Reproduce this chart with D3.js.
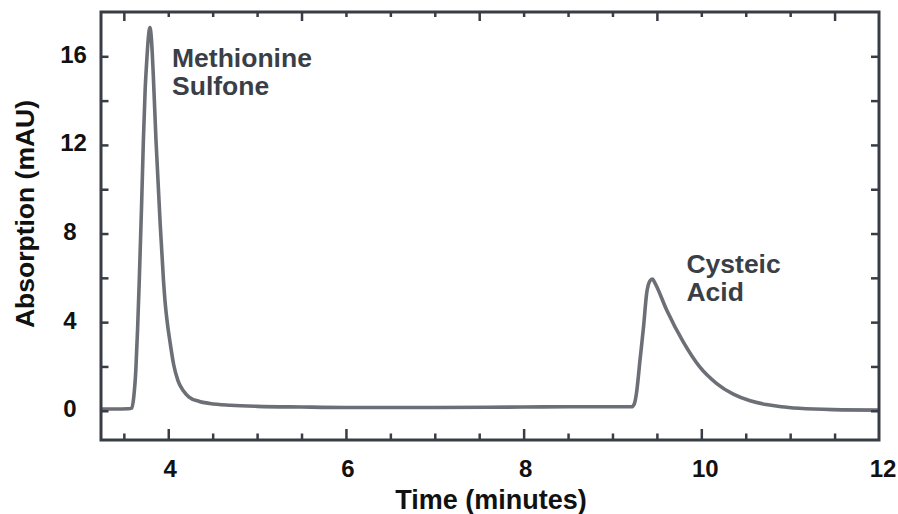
<!DOCTYPE html>
<html>
<head>
<meta charset="utf-8">
<script src="https://cdn.jsdelivr.net/npm/d3@7"></script>
<style>
  html, body { margin: 0; padding: 0; background: #fff; }
  svg { display: block; font-family: "Liberation Sans", Arial, Helvetica, sans-serif; }
</style>
</head>
<body>
<svg id="chart" width="898" height="514"></svg>
<script>
// ---- data ----
const timeMin = [3.24, 3.40, 3.55, 3.59, 3.612, 3.635, 3.655, 3.674, 3.70, 3.72, 3.74, 3.755, 3.775, 3.794,
  3.812, 3.83, 3.862, 3.907, 3.946, 3.968, 3.99, 4.02, 4.06, 4.11, 4.17, 4.23, 4.35, 4.47, 4.7, 5.0, 5.5,
  6.0, 7.0, 8.0, 8.5, 9.0, 9.215, 9.245, 9.27, 9.31, 9.35, 9.385, 9.42, 9.45, 9.48, 9.61, 9.795, 9.98,
  10.17, 10.36, 10.55, 10.73, 10.9, 11.1, 11.48, 12.0];
const absorption = [0.08, 0.08, 0.09, 0.12, 0.63, 1.83, 3.7, 5.9, 9.3, 12.2, 14.5, 15.6, 16.8, 17.3,
  16.7, 15.3, 12.2, 8.6, 5.9, 4.75, 3.95, 3.1, 2.1, 1.35, 0.9, 0.63, 0.42, 0.33, 0.25, 0.2, 0.17,
  0.15, 0.15, 0.17, 0.18, 0.18, 0.18, 0.3, 0.79, 2.29, 3.8, 5.3, 5.85, 5.95, 5.75, 4.55, 3.12, 1.99,
  1.24, 0.75, 0.45, 0.28, 0.18, 0.11, 0.05, 0.03];
const xTickValues = [4, 6, 8, 10, 12];
const yTickValues = [0, 4, 8, 12, 16];
const peakLabels = [
  { lines: ["Methionine", "Sulfone"], t: 3.795, v: 15.5 },
  { lines: ["Cysteic", "Acid"], t: 9.585, v: 6.2 }
];

// ---- layout ----
const svg = d3.select("#chart");
const L = 101, R = 879, T = 12, B = 440;
const x = d3.scaleLinear().domain([3.243, 12]).range([L, R]);
const y = d3.scaleLinear().domain([-1.32, 18]).range([B, T]);
const axisColor = "#383d45";

// curve
const line = d3.line().x((d, i) => x(timeMin[i])).y(d => y(d)).curve(d3.curveMonotoneX);
svg.append("path").datum(absorption)
  .attr("d", line)
  .attr("fill", "none")
  .attr("stroke", "#6c6f76")
  .attr("stroke-width", 3.6)
  .attr("stroke-linejoin", "round");

// ticks helper
function tickGroup(axisGen, transform) {
  const g = svg.append("g").attr("transform", transform).call(axisGen);
  g.select(".domain").remove();
  g.selectAll(".tick line").attr("stroke", axisColor).attr("stroke-width", 2.5);
  return g;
}
const minorX = d3.range(3.5, 12, 0.5).filter(v => xTickValues.indexOf(v) < 0);
tickGroup(d3.axisBottom(x).tickValues(minorX).tickSize(-6.5).tickFormat(""), `translate(0,${B})`);
tickGroup(d3.axisBottom(x).tickValues(xTickValues.filter(v => v < 12)).tickSize(-11).tickFormat(""), `translate(0,${B})`);
svg.append("g").selectAll("text").data(xTickValues).join("text")
  .attr("x", d => x(d) + (d >= 10 ? 4 : 2))
  .attr("y", 477)
  .attr("text-anchor", "middle")
  .attr("font-size", 24).attr("font-weight", "bold").attr("fill", "#111")
  .text(d => d);
const topAll = d3.range(3.5, 12, 0.5);
const topMajor = topAll.filter(v => ((v - 3.5) % 2) === 0);
tickGroup(d3.axisTop(x).tickValues(topAll.filter(v => topMajor.indexOf(v) < 0)).tickSize(-5).tickFormat(""), `translate(0,${T})`);
tickGroup(d3.axisTop(x).tickValues(topMajor).tickSize(-9).tickFormat(""), `translate(0,${T})`);
const yAll = d3.range(0, 17, 2);
tickGroup(d3.axisLeft(y).tickValues(yAll).tickSize(-7.5).tickFormat(""), `translate(${L},0)`);
tickGroup(d3.axisRight(y).tickValues(yAll).tickSize(-8).tickFormat(""), `translate(${R},0)`);
svg.append("g").selectAll("text").data(yTickValues).join("text")
  .attr("x", d => d >= 10 ? 73.5 : 70)
  .attr("y", d => y(d) - 2)
  .attr("dy", "0.35em")
  .attr("text-anchor", "middle")
  .attr("font-size", 24).attr("font-weight", "bold").attr("fill", "#111")
  .text(d => d);

// frame
svg.append("rect")
  .attr("x", L).attr("y", T).attr("width", R - L).attr("height", B - T)
  .attr("fill", "none").attr("stroke", axisColor).attr("stroke-width", 3);

// axis titles
svg.append("text")
  .attr("x", (L + R) / 2 + 1).attr("y", 509)
  .attr("text-anchor", "middle")
  .attr("font-size", 27).attr("font-weight", "bold").attr("fill", "#111")
  .text("Time (minutes)");
svg.append("text")
  .attr("transform", "translate(34,214) rotate(-90)")
  .attr("text-anchor", "middle")
  .attr("font-size", 26.5).attr("font-weight", "bold").attr("fill", "#111")
  .text("Absorption (mAU)");

// peak labels (one text element per line)
peakLabels.forEach(p => {
  p.lines.forEach((s, i) => {
    svg.append("text")
      .attr("x", x(p.t) + 22)
      .attr("y", y(p.v) + i * 27.5)
      .attr("font-size", 26.5).attr("font-weight", "bold").attr("fill", "#3a3f47")
      .text(s);
  });
});
</script>
</body>
</html>
